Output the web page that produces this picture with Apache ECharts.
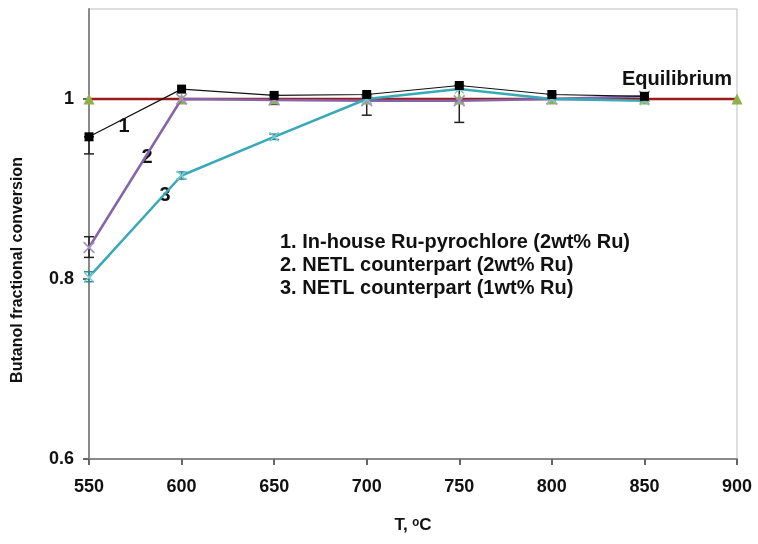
<!DOCTYPE html>
<html><head><meta charset="utf-8">
<script src="https://cdn.jsdelivr.net/npm/echarts@6/dist/echarts.min.js"></script>
<style>html,body{margin:0;padding:0;background:#fff}#c{width:758px;height:544px}</style>
</head><body><div id="c"></div>
<script>
const temps = [550, 600, 650, 700, 750, 800, 850];
const eqTemps = [550, 600, 650, 700, 750, 800, 850, 900];
const s1 = [0.958, 1.011, 1.004, 1.005, 1.015, 1.005, 1.003];
const s2 = [0.835, 1.000, 0.999, 0.998, 0.998, 1.000, 1.003];
const s3 = [0.802, 0.915, 0.958, 1.000, 1.011, 1.000, 0.998];
const eq = [1, 1, 1, 1, 1, 1, 1, 1];
// error bars: [T, low, high]
const err1 = [[550, 0.939, 0.958], [700, 0.982, 1.005], [750, 0.974, 1.015], [650, 0.994, 1.004]];
const err2 = [[550, 0.824, 0.847]];
const err3 = [[550, 0.797, 0.808], [600, 0.911, 0.919], [650, 0.955, 0.961]];
const yTicks = [0.6, 0.8, 1];
const xTicks = [550, 600, 650, 700, 750, 800, 850, 900];
const legendLines = ['1. In-house Ru-pyrochlore (2wt% Ru)', '2. NETL counterpart (2wt% Ru)', '3. NETL counterpart (1wt% Ru)'];

const F = '"Liberation Sans", Arial, sans-serif';
const chart = echarts.init(document.getElementById('c'), null, {renderer: 'canvas'});
const cross = 'path://M0,1L1,0L5,4L9,0L10,1L6,5L10,9L9,10L5,6L1,10L0,9L4,5Z';
function errSeries(data, color) {
  return {
    type: 'custom', z: 3, silent: true,
    data: data,
    renderItem: function (params, api) {
      const x = api.value(0);
      const lo = api.coord([x, api.value(1)]);
      const hi = api.coord([x, api.value(2)]);
      const w = 5;
      const st = {stroke: color, lineWidth: 1.5};
      return {type: 'group', children: [
        {type: 'line', shape: {x1: lo[0], y1: lo[1], x2: hi[0], y2: hi[1]}, style: st},
        {type: 'line', shape: {x1: lo[0] - w, y1: lo[1], x2: lo[0] + w, y2: lo[1]}, style: st},
        {type: 'line', shape: {x1: hi[0] - w, y1: hi[1], x2: hi[0] + w, y2: hi[1]}, style: st}
      ]};
    }
  };
}
const pair = (xs, ys) => xs.map((x, i) => [x, ys[i]]);
const txt = (x, y, text, size, extra) => Object.assign({type: 'text', x: x, y: y,
  style: {text: text, font: 'bold ' + size + 'px ' + F, fill: '#111', textAlign: 'center', textVerticalAlign: 'middle'}}, extra || {});
chart.setOption({
  animation: false,
  grid: {left: 89, right: 21, top: 9, bottom: 85, show: true, borderColor: '#bdbdbd', borderWidth: 1},
  xAxis: {
    type: 'value', min: 550, max: 900, interval: 50,
    name: 'T, \u1d52C', nameLocation: 'middle', nameGap: 58,
    nameTextStyle: {fontFamily: F, fontWeight: 'bold', fontSize: 17, color: '#111'},
    axisLine: {show: true, lineStyle: {color: '#8a8a8a', width: 2}},
    axisTick: {show: true, length: 6, customValues: xTicks, lineStyle: {color: '#666', width: 2}},
    axisLabel: {fontFamily: F, fontWeight: 'bold', fontSize: 18, color: '#111', margin: 19, customValues: xTicks},
    splitLine: {show: false}
  },
  yAxis: {
    type: 'value', min: 0.6, max: 1.1, interval: 0.2,
    axisLine: {show: true, lineStyle: {color: '#8a8a8a', width: 2}},
    axisTick: {show: true, length: 6, customValues: yTicks, lineStyle: {color: '#666', width: 2}},
    axisLabel: {fontFamily: F, fontWeight: 'bold', fontSize: 18, color: '#111', margin: 15, customValues: yTicks,
      formatter: v => String(+(+v).toFixed(1))},
    splitLine: {show: false}
  },
  series: [
    errSeries(err1, '#222'),
    errSeries(err2, '#222'),
    errSeries(err3, '#2a8a96'),
    {type: 'line', name: 'Equilibrium', z: 4, data: pair(eqTemps, eq),
      lineStyle: {color: '#9b1b1b', width: 2.5}, symbol: 'triangle', symbolSize: 11,
      itemStyle: {color: '#8fb04a'}},
    {type: 'line', name: '2', z: 5, data: pair(temps, s2),
      lineStyle: {color: '#8466a8', width: 2.5}, symbol: cross, symbolSize: 12,
      itemStyle: {color: '#a796bf'}},
    {type: 'line', name: '3', z: 6, data: pair(temps, s3),
      lineStyle: {color: '#37a9b8', width: 2.5}, symbol: cross, symbolSize: 10,
      itemStyle: {color: '#7fc9d3'}},
    {type: 'line', name: '1', z: 7, data: pair(temps, s1),
      lineStyle: {color: '#111', width: 1.2}, symbol: 'rect', symbolSize: 9,
      itemStyle: {color: '#000'}}
  ],
  graphic: [
    txt(677, 79, 'Equilibrium', 20),
    txt(124, 126, '1', 20),
    txt(147, 157, '2', 20),
    txt(165, 195, '3', 20),
    txt(280, 242, legendLines[0], 20, {}),
    txt(280, 265, legendLines[1], 20, {}),
    txt(280, 288, legendLines[2], 20, {}),
    txt(18, 270, 'Butanol fractional conversion', 16, {rotation: Math.PI / 2})
  ].map((g, i) => { if (i >= 4 && i <= 6) g.style.textAlign = 'left'; return g; })
});
</script></body></html>
